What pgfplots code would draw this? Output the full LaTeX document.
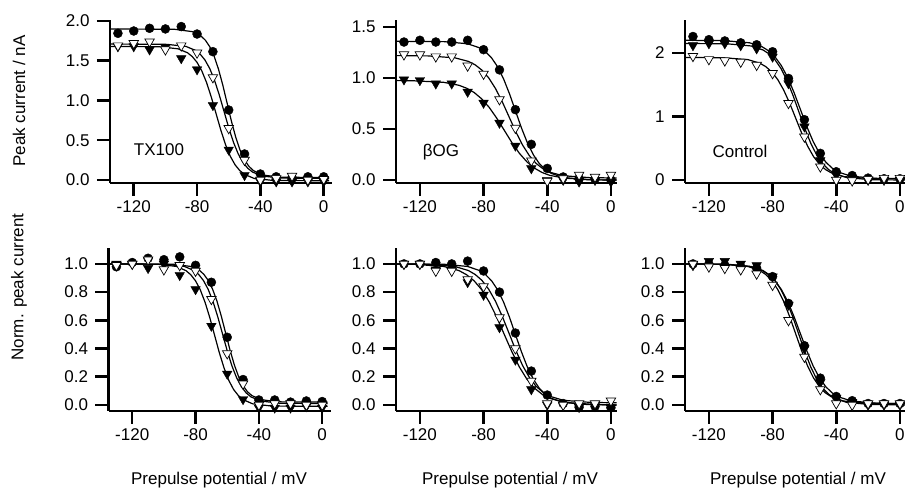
\documentclass[border=0pt]{standalone}
\usepackage{pgfplots}
\pgfplotsset{compat=1.18}
\usepackage{fontspec}
\setmainfont{Liberation Sans}
\newcommand\fs{\fontsize{17pt}{18pt}\selectfont}
\pgfplotsset{
 panel/.style={scale only axis, axis x line=bottom, axis y line=left,
   axis line style={line width=2.5pt,-}, tick style={line width=2.5pt,black},
   major tick length=13pt, tick align=outside, xmin=-135,
   xtick={-120,-80,-40,0}, xticklabels={-120,-80,-40,0},
   ticklabel style={font=\fs}, yticklabel style={xshift=-4pt}, xticklabel style={yshift=-1pt},
   clip=false, height=163pt, anchor=south west},
 fit/.style={black, line width=1.2pt, no marks},
 circ/.style={only marks, mark=*, mark size=4.5pt, mark options={fill=black, draw=black}},
 ftri/.style={only marks, mark=triangle*, mark size=5.5pt, mark options={rotate=180, fill=black, draw=black}},
 otri/.style={only marks, mark=triangle*, mark size=5.5pt, mark options={rotate=180, fill=white, draw=black, line width=0.7pt}},
}
\begin{document}
\begin{tikzpicture}
\useasboundingbox (0,0) rectangle (905pt,489pt);
% ---------- TX100 top
\begin{axis}[panel, at={(110pt,306pt)}, width=222.4pt, xmax=5.5, ymin=-0.038, ymax=2.0125,
  ytick={0,0.5,1,1.5,2}, yticklabels={0.0,0.5,1.0,1.5,2.0}]
\addplot[fit] coordinates {(-135,1.90)(-94,1.895)(-83,1.866)(-77.5,1.811)(-74.75,1.758)(-72,1.677)(-69.25,1.559)(-66.5,1.397)(-63.75,1.194)(-61,0.965)(-58.25,0.736)(-55.5,0.533)(-52.75,0.371)(-50,0.253)(-47.25,0.172)(-44.5,0.119)(-39,0.064)(-28,0.035)(3.5,0.03)};
\addplot[fit] coordinates {(-135,1.71)(-99,1.706)(-87,1.680)(-81,1.630)(-78,1.582)(-75,1.509)(-72,1.402)(-69,1.256)(-66,1.072)(-63,0.865)(-60,0.658)(-57,0.474)(-54,0.328)(-51,0.221)(-48,0.148)(-45,0.100)(-39,0.050)(-27,0.024)(3.5,0.02)};
\addplot[fit] coordinates {(-135,1.68)(-104,1.676)(-92,1.650)(-86,1.600)(-83,1.552)(-80,1.479)(-77,1.372)(-74,1.226)(-71,1.042)(-68,0.835)(-65,0.628)(-62,0.444)(-59,0.298)(-56,0.191)(-53,0.118)(-50,0.070)(-44,0.020)(-32,-0.006)(3.5,-0.01)};
\addplot[circ] coordinates {(-130,1.845)(-120,1.874)(-110,1.908)(-100,1.90)(-90,1.93)(-80,1.836)(-70,1.614)(-60,0.88)(-50,0.327)(-40,0.075)(-30,0.04)(-20,0.03)(-10,0.04)(0,0.04)};
\addplot[ftri] coordinates {(-130,1.68)(-120,1.68)(-110,1.64)(-100,1.67)(-90,1.53)(-80,1.39)(-70,0.94)(-60,0.38)(-50,0.06)(-40,-0.02)(-30,-0.02)(-20,-0.02)(-10,-0.02)(0,-0.02)};
\addplot[otri] coordinates {(-130,1.69)(-120,1.72)(-110,1.74)(-100,1.64)(-90,1.69)(-80,1.60)(-70,1.29)(-60,0.65)(-50,0.25)(-40,0.0)(-30,0.02)(-20,0.05)(-10,0.0)(0,0.01)};
\end{axis}
% ---------- bOG top
\begin{axis}[panel, at={(396pt,306pt)}, width=221.3pt, xmax=4, ymin=-0.029, ymax=1.569,
  ytick={0,0.5,1,1.5}, yticklabels={0.0,0.5,1.0,1.5}]
\addplot[fit] coordinates {(-135,1.36)(-105,1.357)(-90,1.336)(-82.5,1.296)(-78.75,1.257)(-75,1.198)(-71.25,1.112)(-67.5,0.994)(-63.75,0.847)(-60,0.680)(-56.25,0.513)(-52.5,0.366)(-48.75,0.248)(-45,0.162)(-41.25,0.103)(-37.5,0.065)(-30,0.025)(-15,0.003)(3.5,0)};
\addplot[fit] coordinates {(-135,1.22)(-115,1.217)(-98,1.198)(-89.5,1.163)(-85.25,1.129)(-81,1.077)(-76.75,1.001)(-72.5,0.897)(-68.25,0.767)(-64,0.620)(-59.75,0.473)(-55.5,0.343)(-51.25,0.239)(-47,0.163)(-42.75,0.111)(-38.5,0.077)(-30,0.042)(-13,0.023)(3.5,0.02)};
\addplot[fit] coordinates {(-135,0.975)(-124,0.973)(-105,0.958)(-95.5,0.929)(-90.75,0.901)(-86,0.859)(-81.25,0.797)(-76.5,0.713)(-71.75,0.607)(-67,0.488)(-62.25,0.368)(-57.5,0.262)(-52.75,0.178)(-48,0.116)(-43.25,0.074)(-38.5,0.046)(-29,0.018)(-10,0.002)(3.5,0)};
\addplot[circ] coordinates {(-130,1.353)(-120,1.37)(-110,1.353)(-100,1.353)(-90,1.37)(-80,1.278)(-70,1.08)(-60,0.69)(-50,0.35)(-40,0.114)(-30,0.03)(-20,0.016)(-10,0.01)(0,0.0)};
\addplot[ftri] coordinates {(-130,0.985)(-120,0.978)(-110,0.945)(-100,0.945)(-90,0.864)(-80,0.756)(-70,0.56)(-60,0.336)(-50,0.114)(-40,0.0)(-30,0.0)(-20,-0.016)(-10,0.0)(0,-0.016)};
\addplot[otri] coordinates {(-130,1.23)(-120,1.23)(-110,1.21)(-100,1.21)(-90,1.12)(-80,1.04)(-70,0.79)(-60,0.51)(-50,0.19)(-40,-0.01)(-30,0.016)(-20,0.05)(-10,0.03)(0,0.05)};
\end{axis}
% ---------- Control top
\begin{axis}[panel, at={(685pt,306pt)}, width=220.5pt, xmax=3.5, ymin=-0.047, ymax=2.52,
  ytick={0,1,2}, yticklabels={0,1,2}]
\addplot[fit] coordinates {(-135,2.20)(-110.5,2.195)(-94.5,2.161)(-86.5,2.097)(-82.5,2.035)(-78.5,1.940)(-74.5,1.802)(-70.5,1.614)(-66.5,1.377)(-62.5,1.110)(-58.5,0.843)(-54.5,0.606)(-50.5,0.418)(-46.5,0.280)(-42.5,0.186)(-38.5,0.123)(-30.5,0.059)(-14.5,0.026)(3.5,0.02)};
\addplot[fit] coordinates {(-135,2.15)(-108.5,2.145)(-93.5,2.111)(-86,2.048)(-82.25,1.987)(-78.5,1.894)(-74.75,1.758)(-71,1.572)(-67.25,1.338)(-63.5,1.075)(-59.75,0.812)(-56,0.578)(-52.25,0.392)(-48.5,0.256)(-44.75,0.163)(-41,0.102)(-33.5,0.039)(-18.5,0.005)(3.5,0)};
\addplot[fit] coordinates {(-135,1.93)(-110.5,1.925)(-95.5,1.896)(-88,1.840)(-84.25,1.785)(-80.5,1.702)(-76.75,1.582)(-73,1.416)(-69.25,1.209)(-65.5,0.975)(-61.75,0.741)(-58,0.534)(-54.25,0.368)(-50.5,0.248)(-46.75,0.165)(-43,0.111)(-35.5,0.054)(-20.5,0.025)(3.5,0.02)};
\addplot[circ] coordinates {(-130,2.26)(-120,2.21)(-110,2.19)(-100,2.16)(-90,2.13)(-80,2.02)(-70,1.60)(-60,0.95)(-50,0.42)(-40,0.13)(-30,0.07)(-20,0.03)(-10,0.02)(0,0.02)};
\addplot[ftri] coordinates {(-130,2.12)(-120,2.15)(-110,2.15)(-100,2.12)(-90,2.07)(-80,1.94)(-70,1.52)(-60,0.84)(-50,0.31)(-40,0.08)(-30,0.03)(-20,0.0)(-10,0.0)(0,0.0)};
\addplot[otri] coordinates {(-130,1.95)(-120,1.90)(-110,1.88)(-100,1.86)(-90,1.81)(-80,1.68)(-70,1.21)(-60,0.68)(-50,0.21)(-40,0.0)(-30,-0.01)(-20,0.01)(-10,0.03)(0,0.03)};
\end{axis}
% ---------- TX100 bottom
\begin{axis}[panel, at={(108.5pt,78pt)}, width=222.4pt, xmax=5.5, ymin=-0.043, ymax=1.113,
  ytick={0,0.2,0.4,0.6,0.8,1}, yticklabels={0.0,0.2,0.4,0.6,0.8,1.0}]
\addplot[fit] coordinates {(-135,1.0)(-94,0.998)(-83,0.982)(-77.5,0.954)(-74.75,0.926)(-72,0.883)(-69.25,0.821)(-66.5,0.737)(-63.75,0.630)(-61,0.510)(-58.25,0.390)(-55.5,0.284)(-52.75,0.199)(-50,0.137)(-47.25,0.094)(-44.5,0.067)(-39,0.038)(-28,0.022)(3.5,0.02)};
\addplot[fit] coordinates {(-135,1.0)(-99,0.998)(-87,0.982)(-81,0.953)(-78,0.925)(-75,0.882)(-72,0.819)(-69,0.734)(-66,0.626)(-63,0.505)(-60,0.384)(-57,0.276)(-54,0.191)(-51,0.128)(-48,0.085)(-45,0.057)(-39,0.028)(-27,0.012)(3.5,0.01)};
\addplot[fit] coordinates {(-135,1.0)(-104,0.998)(-92,0.982)(-86,0.952)(-83,0.923)(-80,0.880)(-77,0.816)(-74,0.728)(-71,0.619)(-68,0.495)(-65,0.371)(-62,0.262)(-59,0.174)(-56,0.110)(-53,0.067)(-50,0.038)(-44,0.008)(-32,-0.008)(3.5,-0.01)};
\addplot[circ] coordinates {(-130,0.98)(-120,1.01)(-110,1.04)(-100,1.03)(-90,1.05)(-80,0.99)(-70,0.87)(-60,0.48)(-50,0.18)(-40,0.035)(-30,0.035)(-20,0.02)(-10,0.028)(0,0.024)};
\addplot[ftri] coordinates {(-130,1.0)(-120,1.0)(-110,0.97)(-100,1.0)(-90,0.92)(-80,0.82)(-70,0.56)(-60,0.22)(-50,0.04)(-40,-0.02)(-30,-0.02)(-20,-0.02)(-10,-0.01)(0,-0.02)};
\addplot[otri] coordinates {(-130,0.99)(-120,1.0)(-110,1.03)(-100,0.96)(-90,0.99)(-80,0.95)(-70,0.75)(-60,0.365)(-50,0.15)(-40,0.0)(-30,0.01)(-20,0.01)(-10,0.0)(0,0.0)};
\end{axis}
% ---------- bOG bottom
\begin{axis}[panel, at={(396pt,78pt)}, width=221.3pt, xmax=4, ymin=-0.043, ymax=1.113,
  ytick={0,0.2,0.4,0.6,0.8,1}, yticklabels={0.0,0.2,0.4,0.6,0.8,1.0}]
\addplot[fit] coordinates {(-135,1.0)(-105,0.998)(-90,0.982)(-82.5,0.953)(-78.75,0.924)(-75,0.881)(-71.25,0.818)(-67.5,0.731)(-63.75,0.623)(-60,0.500)(-56.25,0.378)(-52.5,0.269)(-48.75,0.182)(-45,0.119)(-41.25,0.076)(-37.5,0.047)(-30,0.018)(-15,0.003)(3.5,0)};
\addplot[fit] coordinates {(-135,1.0)(-115,0.998)(-98,0.982)(-89.5,0.953)(-85.25,0.925)(-81,0.883)(-76.75,0.820)(-72.5,0.735)(-68.25,0.628)(-64,0.508)(-59.75,0.387)(-55.5,0.280)(-51.25,0.195)(-47,0.132)(-42.75,0.090)(-38.5,0.062)(-30,0.033)(-13,0.018)(3.5,0.015)};
\addplot[fit] coordinates {(-135,1.0)(-124,0.998)(-105,0.982)(-95.5,0.953)(-90.75,0.924)(-86,0.881)(-81.25,0.818)(-76.5,0.731)(-71.75,0.623)(-67,0.500)(-62.25,0.378)(-57.5,0.269)(-52.75,0.182)(-48,0.119)(-43.25,0.076)(-38.5,0.047)(-29,0.018)(-10,0.003)(3.5,0)};
\addplot[circ] coordinates {(-130,1.0)(-120,1.0)(-110,1.01)(-100,1.0)(-90,1.02)(-80,0.95)(-70,0.80)(-60,0.51)(-50,0.24)(-40,0.07)(-30,0.01)(-20,-0.016)(-10,-0.01)(0,-0.02)};
\addplot[ftri] coordinates {(-130,1.0)(-120,1.0)(-110,0.96)(-100,0.96)(-90,0.87)(-80,0.78)(-70,0.55)(-60,0.32)(-50,0.11)(-40,0.0)(-30,0.0)(-20,-0.016)(-10,-0.01)(0,-0.02)};
\addplot[otri] coordinates {(-130,1.0)(-120,1.0)(-110,0.95)(-100,0.95)(-90,0.89)(-80,0.84)(-70,0.62)(-60,0.40)(-50,0.17)(-40,0.01)(-30,0.0)(-20,0.01)(-10,0.01)(0,0.03)};
\end{axis}
% ---------- Control bottom
\begin{axis}[panel, at={(685pt,78pt)}, width=220.5pt, xmax=3.5, ymin=-0.043, ymax=1.113,
  ytick={0,0.2,0.4,0.6,0.8,1}, yticklabels={0.0,0.2,0.4,0.6,0.8,1.0}]
\addplot[fit] coordinates {(-135,1.0)(-110.5,0.998)(-94.5,0.982)(-86.5,0.953)(-82.5,0.925)(-78.5,0.882)(-74.5,0.819)(-70.5,0.734)(-66.5,0.626)(-62.5,0.505)(-58.5,0.384)(-54.5,0.276)(-50.5,0.191)(-46.5,0.128)(-42.5,0.085)(-38.5,0.057)(-30.5,0.028)(-14.5,0.012)(3.5,0.01)};
\addplot[fit] coordinates {(-135,1.0)(-108.5,0.998)(-93.5,0.982)(-86,0.953)(-82.25,0.924)(-78.5,0.881)(-74.75,0.818)(-71,0.731)(-67.25,0.623)(-63.5,0.500)(-59.75,0.378)(-56,0.269)(-52.25,0.182)(-48.5,0.119)(-44.75,0.076)(-41,0.047)(-33.5,0.018)(-18.5,0.003)(3.5,0)};
\addplot[fit] coordinates {(-135,1.0)(-110.5,0.998)(-95.5,0.982)(-88,0.953)(-84.25,0.925)(-80.5,0.882)(-76.75,0.819)(-73,0.734)(-69.25,0.626)(-65.5,0.505)(-61.75,0.384)(-58,0.276)(-54.25,0.191)(-50.5,0.128)(-46.75,0.085)(-43,0.057)(-35.5,0.028)(-20.5,0.012)(3.5,0.01)};
\addplot[circ] coordinates {(-130,1.0)(-120,1.0)(-110,0.99)(-100,0.98)(-90,0.97)(-80,0.91)(-70,0.72)(-60,0.42)(-50,0.19)(-40,0.06)(-30,0.03)(-20,0.01)(-10,0.01)(0,0.01)};
\addplot[ftri] coordinates {(-130,0.99)(-120,1.02)(-110,1.02)(-100,1.0)(-90,0.99)(-80,0.91)(-70,0.71)(-60,0.40)(-50,0.16)(-40,0.05)(-30,0.02)(-20,0.0)(-10,0.0)(0,0.0)};
\addplot[otri] coordinates {(-130,1.0)(-120,0.98)(-110,0.97)(-100,0.96)(-90,0.93)(-80,0.85)(-70,0.60)(-60,0.34)(-50,0.11)(-40,0.01)(-30,0.0)(-20,0.01)(-10,0.01)(0,0.01)};
\end{axis}
% ---------- texts
\node[font=\fs] at (159pt,339pt) {TX100};
\node[font=\fs] at (441pt,337pt) {βOG};
\node[font=\fs] at (740pt,338pt) {Control};
\node[font=\fs, rotate=90] at (19pt,388pt) {Peak current / nA};
\node[font=\fs, rotate=90] at (19pt,202pt) {Norm. peak current};
\node[font=\fs, anchor=base] at (219pt,4pt) {Prepulse potential / mV};
\node[font=\fs, anchor=base] at (510pt,4pt) {Prepulse potential / mV};
\node[font=\fs, anchor=base] at (798pt,4pt) {Prepulse potential / mV};
\end{tikzpicture}
\end{document}
